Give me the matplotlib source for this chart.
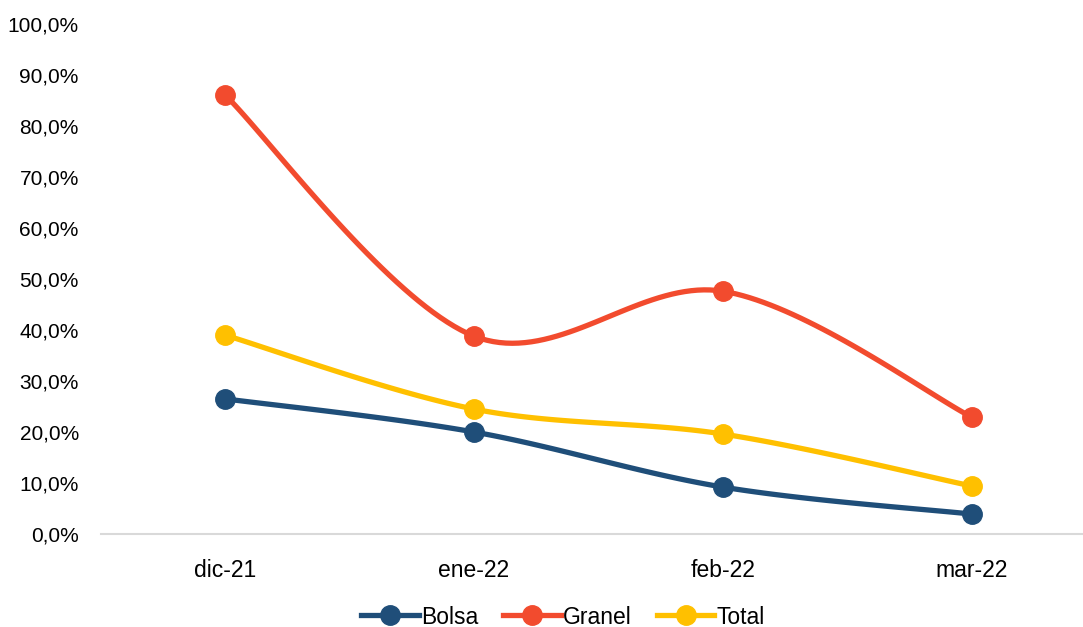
import matplotlib.pyplot as plt
import numpy as np
from matplotlib.ticker import FuncFormatter

plt.rcParams['font.family'] = ['Liberation Sans', 'DejaVu Sans']

meses = ['dic-21', 'ene-22', 'feb-22', 'mar-22']
bolsa = [26.5, 20.0, 9.2, 3.9]
granel = [86.1, 38.8, 47.6, 22.9]
total = [39.0, 24.5, 19.6, 9.4]

series = [('Bolsa', bolsa, '#1F4E79'),
          ('Granel', granel, '#F24B2E'),
          ('Total', total, '#FFC000')]


def suavizar(x, y, n=40):
    # curva tipo Excel (Catmull-Rom como Bezier cubica)
    x = np.asarray(x, float)
    y = np.asarray(y, float)
    px = np.concatenate([[x[0]], x, [x[-1]]])
    py = np.concatenate([[y[0]], y, [y[-1]]])
    xs, ys = [], []
    t = np.linspace(0, 1, n)
    for i in range(1, len(px) - 2):
        p0 = np.array([px[i], py[i]])
        p3 = np.array([px[i + 1], py[i + 1]])
        c1 = p0 + (np.array([px[i + 1], py[i + 1]]) - np.array([px[i - 1], py[i - 1]])) / 6
        c2 = p3 - (np.array([px[i + 2], py[i + 2]]) - np.array([px[i], py[i]])) / 6
        b = ((1 - t) ** 3)[:, None] * p0 + (3 * (1 - t) ** 2 * t)[:, None] * c1 \
            + (3 * (1 - t) * t ** 2)[:, None] * c2 + (t ** 3)[:, None] * p3
        xs.extend(b[:, 0])
        ys.extend(b[:, 1])
    return xs, ys


fig = plt.figure(figsize=(10.83, 6.27), dpi=100)
ax = fig.add_axes([101 / 1083, 1 - 534 / 627, 1 - 101 / 1083, (534 - 24) / 627])

pos = np.arange(len(meses))
for nombre, vals, color in series:
    sx, sy = suavizar(pos, vals)
    ax.plot(sx, sy, color=color, lw=3.8, solid_capstyle='round', zorder=2)
    ax.plot(pos, vals, 'o', color=color, ms=14, zorder=3)
    ax.plot([], [], color=color, lw=3.8, marker='o', ms=14, label=nombre)

ax.set_xlim(-0.498, 3.446)
ax.set_ylim(0, 100)
ax.set_yticks(np.arange(0, 101, 10))
ax.yaxis.set_major_formatter(FuncFormatter(lambda v, p: f'{v:.1f}%'.replace('.', ',')))
ax.set_xticks(pos)
ax.set_xticklabels(meses)
ax.tick_params(axis='both', length=0, colors='#000000')
ax.tick_params(axis='y', pad=16, labelsize=15)
ax.tick_params(axis='x', pad=18, labelsize=16.5)

for s in ['top', 'right', 'left']:
    ax.spines[s].set_visible(False)
ax.spines['bottom'].set_color('#D9D9D9')
ax.spines['bottom'].set_linewidth(1.5)
ax.spines['bottom'].set_zorder(1)

fig.legend(loc='center', bbox_to_anchor=(563 / 1083, 1 - 617 / 627), ncol=3,
           frameon=False, fontsize=16.5, handlelength=2.5, handletextpad=0.1,
           columnspacing=1.1)

plt.savefig('out.png', dpi=100)
